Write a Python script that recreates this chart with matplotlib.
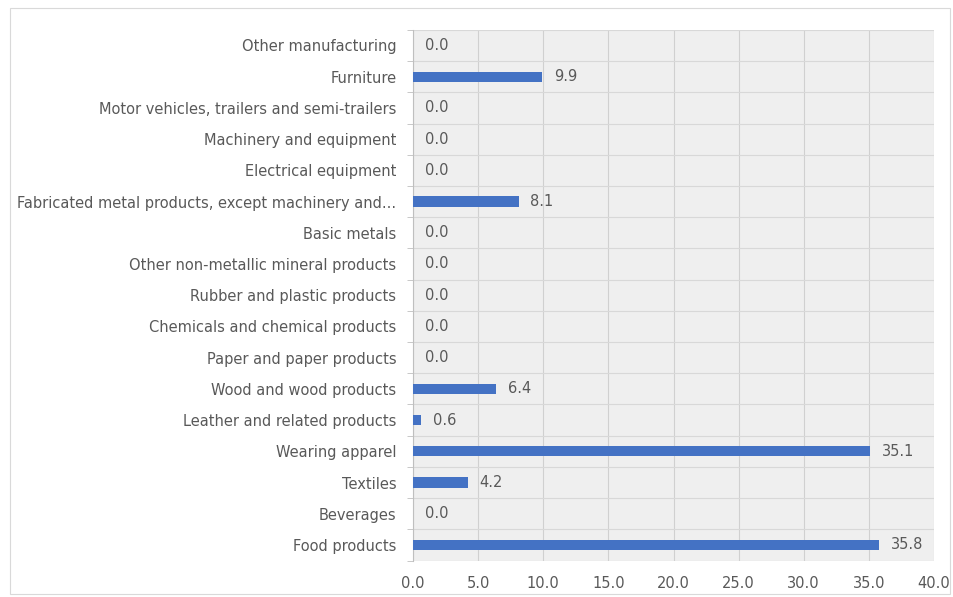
import matplotlib.pyplot as plt
import matplotlib.patches as mpatches
import numpy as np

categories = [
    "Food products", "Beverages", "Textiles", "Wearing apparel",
    "Leather and related products", "Wood and wood products",
    "Paper and paper products", "Chemicals and chemical products",
    "Rubber and plastic products", "Other non-metallic mineral products",
    "Basic metals", "Fabricated metal products, except machinery and...",
    "Electrical equipment", "Machinery and equipment",
    "Motor vehicles, trailers and semi-trailers", "Furniture",
    "Other manufacturing",
]
values = [35.8, 0.0, 4.2, 35.1, 0.6, 6.4, 0.0, 0.0, 0.0, 0.0, 0.0, 8.1,
          0.0, 0.0, 0.0, 9.9, 0.0]
xticks = [0, 5, 10, 15, 20, 25, 30, 35, 40]

txt = "#595959"
fs = 10.5
plt.rcParams['font.family'] = ['DejaVu Sans']

fig = plt.figure(figsize=(9.54, 5.97), dpi=100)
fig.patches.append(mpatches.Rectangle((0.011, 0.005), 0.985, 0.982, transform=fig.transFigure,
                                      fill=False, edgecolor="#d9d9d9", linewidth=0.8))
ax = fig.add_axes([0.433, 0.061, 0.546, 0.889])
ax.set_facecolor("#efefef")

y = np.arange(len(categories))
ax.barh(y, values, height=0.33, color="#4472C4", zorder=3)
for yi, v in zip(y, values):
    ax.text(v + 0.9, yi, f"{v:.1f}", va="center", ha="left", color=txt, fontsize=fs, zorder=4)

ax.set_xlim(0, 40)
ax.set_ylim(-0.5, len(categories) - 0.5)
ax.set_xticks(xticks)
ax.set_xticklabels([f"{t:.1f}" for t in xticks], color=txt, fontsize=fs)
ax.set_yticks(y)
ax.set_yticklabels(categories, color=txt, fontsize=fs)
ax.set_yticks(np.arange(len(categories) + 1) - 0.5, minor=True)
ax.tick_params(axis="x", length=0, pad=11)
ax.tick_params(axis="y", which="major", length=0, pad=12)
ax.tick_params(axis="y", which="minor", length=4, color="#bfbfbf")
ax.grid(axis="x", color="#d0d0d0", linewidth=0.8, zorder=0)
ax.grid(axis="y", which="minor", color="#d8d8d8", linewidth=0.8, zorder=0)
for s in ["top", "right", "bottom"]:
    ax.spines[s].set_visible(False)
ax.spines["left"].set_color("#bfbfbf")

fig.savefig("out.png", dpi=100)
